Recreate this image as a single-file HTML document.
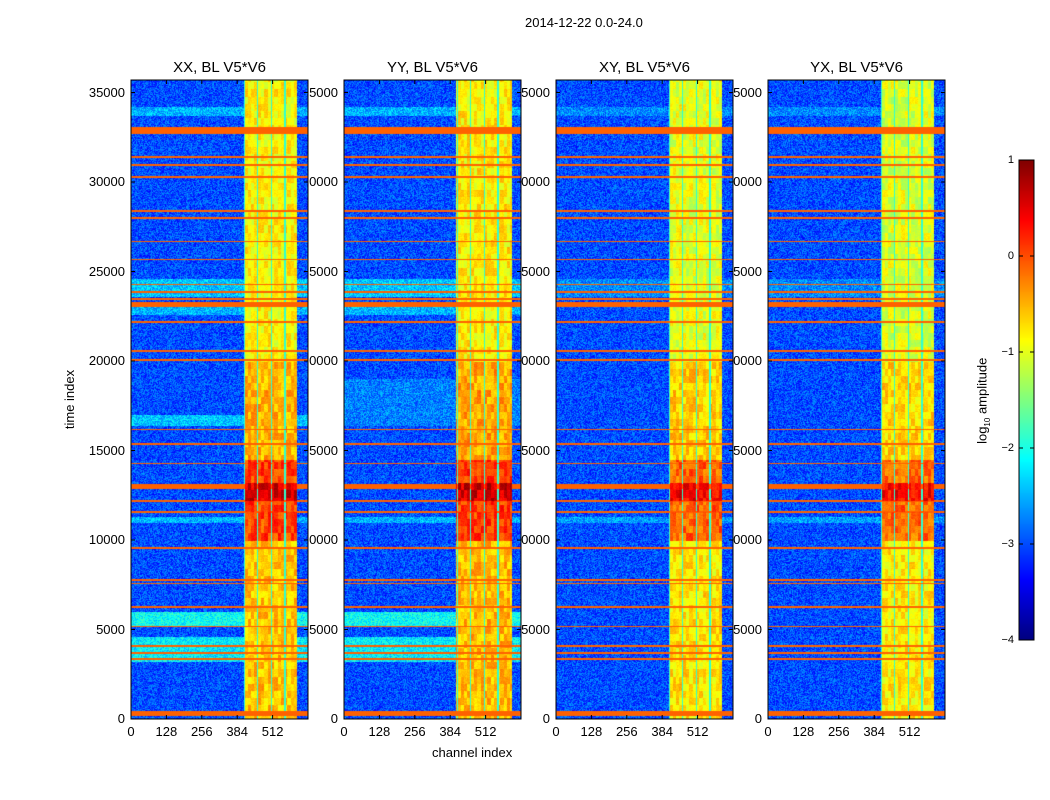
<!DOCTYPE html>
<html><head><meta charset="utf-8">
<style>
body{margin:0;background:#fff;width:1050px;height:800px;position:relative;overflow:hidden;font-family:"Liberation Sans","DejaVu Sans",sans-serif;}
.t{position:absolute;font-size:13px;color:#000;white-space:nowrap;z-index:1}
canvas{position:absolute;z-index:2}
svg{position:absolute;left:0;top:0;z-index:3}
.title{position:absolute;font-size:15px;z-index:1;white-space:nowrap;transform:translateX(-50%)}
</style></head><body>
<div class="t" style="left:525px;top:15px">2014-12-22 0.0-24.0</div>
<div class="t" style="left:40px;top:392px;transform:rotate(-90deg)">time index</div>
<div class="t" style="left:432px;top:745px">channel index</div>
<div class="t" style="left:940px;top:392px;transform:rotate(-90deg)">log<sub style="font-size:8px">10</sub> amplitude</div>
<div id="root"></div>
<canvas id="cbar" width="15" height="480" style="left:1019px;top:160px"></canvas>
<svg id="ov" width="1050" height="800"></svg>
<script>
const panelTitles=["XX, BL V5*V6","YY, BL V5*V6","XY, BL V5*V6","YX, BL V5*V6"];
const xTicks=[0,128,256,384,512];
const yTicks=[0,5000,10000,15000,20000,25000,30000,35000];
const cbTicks=[1,0,-1,-2,-3,-4];
const nChan=640, tMax=35700, vMin=-4, vMax=1;
const rfiLines=[[32700,33100],[32900,33050],[31350,31500],[30950,31050],[30250,30350],[28350,28450],[27950,28050],[26650,26750],[25650,25750],[24250,24350],[23850,23950],[23450,23550],[23050,23300],[22150,22250],[20550,20650],[20050,20150],[16150,16250],[15350,15450],[14250,14350],[12850,13150],[12150,12250],[11550,11650],[9550,9650],[7750,7850],[7550,7650],[6250,6350],[5150,5250],[4050,4150],[3650,3750],[3350,3450],[200,450]];
const rfiValue=-0.1;
const bgBands=[
 [[23600,24600,-2.4],[22600,23200,-2.5],[16400,17000,-2.4],[11000,11300,-2.5],[5200,6000,-2.1],[3200,4600,-2.2],[33700,34200,-2.5]],
 [[23600,24600,-2.4],[22600,23200,-2.5],[16400,19000,-2.75],[11000,11300,-2.5],[5200,6000,-2.1],[3200,4600,-2.2],[33700,34200,-2.5]],
 [[23600,24600,-2.7],[11000,11300,-2.6],[33700,34200,-2.7]],
 [[23600,24600,-2.7],[11000,11300,-2.6],[33700,34200,-2.7]]
];
const bgValue=-3.0;
const brightStart=[405,404,405,405];
const brightEnd=[600,604,600,600];
const gapChannels=[405,452,503,553];
const hotBands=[[0,10000,-0.6],[10000,14500,0.05],[12200,13200,0.55],[14500,20000,-0.5],[20000,36000,-0.85]];
const panelHotShift=[0,0.05,-0.15,-0.2];

function jet(v){const x=Math.max(0,Math.min(1,(v-vMin)/(vMax-vMin)));
 const c=t=>Math.max(0,Math.min(1,t));
 return [c(1.5-Math.abs(4*x-3)),c(1.5-Math.abs(4*x-2)),c(1.5-Math.abs(4*x-1))].map(a=>Math.round(a*255));}
function hash(a,b){let h=(a*374761393+b*668265263)|0;h=(h^(h>>>13))*1274126177|0;return ((h^(h>>>16))>>>0)/4294967296;}
function value(p,ch,t,x,y){
 let v=bgValue;
 for(const b of bgBands[p]) if(t>=b[0]&&t<b[1]) v=b[2];
 v+=(hash(x+p*1000,y)-0.5)*0.8;
 if(ch>=brightStart[p]&&ch<brightEnd[p]){
  let hv=-0.85;for(const b of hotBands) if(t>=b[0]&&t<b[1]) hv=b[2];
  hv+=panelHotShift[p]+(hash(Math.floor(ch/12)+p*50,Math.floor(t/400))-0.5)*0.6+(hash(x,y+7)-0.5)*0.2;
  for(const g of gapChannels) if(ch>=g&&ch<g+5) hv=-1.9;
  v=hv;
 }
 for(const r of rfiLines) if(t>=r[0]&&t<r[1]) v=Math.max(v,rfiValue);
 return v;
}
const lefts=[131,344,556,768],top0=80,W=177,H=639;
const root=document.getElementById('root'),ov=document.getElementById('ov');
const NS='http://www.w3.org/2000/svg';
const xs=(p,c)=>lefts[p]+c/nChan*W, ys=t=>top0+H-t/tMax*H;
lefts.forEach((L,p)=>{
 const ti=document.createElement('div');ti.className='title';ti.textContent=panelTitles[p];
 ti.style.left=(L+W/2)+'px';ti.style.top='59px';
 
 
 root.appendChild(ti);
 const cv=document.createElement('canvas');cv.width=W;cv.height=H;cv.style.left=L+'px';cv.style.top=top0+'px';
 
 
 root.appendChild(cv);
 const ctx=cv.getContext('2d'),img=ctx.createImageData(W,H);
 for(let y=0;y<H;y++)for(let x=0;x<W;x++){
  const ch=x/W*nChan,t=(H-y)/H*tMax;const c=jet(value(p,ch,t,x,y));const i=(y*W+x)*4;
  img.data[i]=c[0];img.data[i+1]=c[1];img.data[i+2]=c[2];img.data[i+3]=255;}
 ctx.putImageData(img,0,0);
 const r=document.createElementNS(NS,'rect');r.setAttribute('x',L);r.setAttribute('y',top0);r.setAttribute('width',W);r.setAttribute('height',H);
 r.setAttribute('fill','none');r.setAttribute('stroke','#000');
 
 
 ov.appendChild(r);
 xTicks.forEach(v=>{const x=xs(p,v);
  const l=document.createElementNS(NS,'path');l.setAttribute('d',`M${x} ${top0+H}v-4M${x} ${top0}v4`);l.setAttribute('stroke','#000');ov.appendChild(l);
  const d=document.createElement('div');d.className='t';d.textContent=v;d.style.left=(x-20)+'px';d.style.width='40px';d.style.textAlign='center';d.style.top='724px';
  
  
  root.appendChild(d);});
 yTicks.forEach(v=>{const y=ys(v);
  const l=document.createElementNS(NS,'path');l.setAttribute('d',`M${L} ${y}h4M${L+W} ${y}h-4`);l.setAttribute('stroke','#000');ov.appendChild(l);
  const d=document.createElement('div');d.className='t';d.textContent=v;d.style.left=(L-66)+'px';d.style.width='60px';d.style.textAlign='right';d.style.top=(y-8)+'px';
  
  
  root.appendChild(d);});
});
const cb=document.getElementById('cbar'),cc=cb.getContext('2d');
for(let y=0;y<480;y++){const c=jet(vMax-(y/479)*(vMax-vMin));cc.fillStyle=`rgb(${c})`;cc.fillRect(0,y,15,1);}
const cr=document.createElementNS(NS,'rect');cr.setAttribute('x',1019);cr.setAttribute('y',160);cr.setAttribute('width',15);cr.setAttribute('height',480);cr.setAttribute('fill','none');cr.setAttribute('stroke','#000');ov.appendChild(cr);
cbTicks.forEach(v=>{const y=160+(vMax-v)/(vMax-vMin)*480;
 const l=document.createElementNS(NS,'path');l.setAttribute('d',`M1019 ${y}h4M1034 ${y}h-4`);l.setAttribute('stroke','#000');ov.appendChild(l);
 const d=document.createElement('div');d.className='t';d.textContent=v<0?'\u2212'+(-v):v;d.style.left='940px';d.style.width='74px';d.style.textAlign='right';d.style.top=(y-6)+'px';d.style.fontSize='11px';
 
 
 root.appendChild(d);});
</script>
</body></html>
